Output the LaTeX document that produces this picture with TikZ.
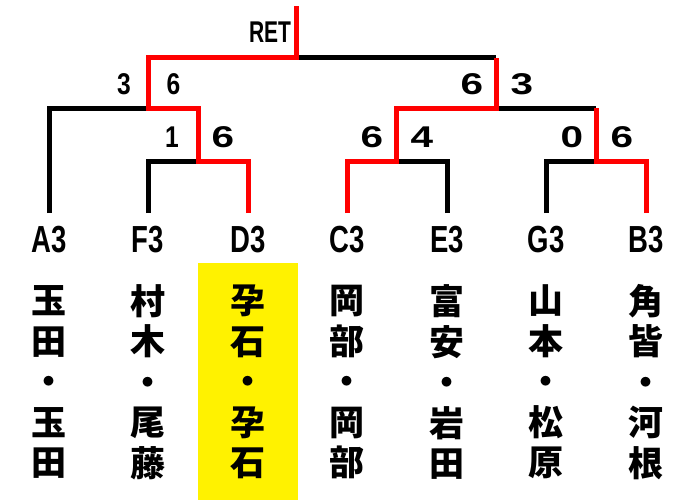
\documentclass[tikz,border=0pt]{standalone}
\usepackage{fontspec}
\setmainfont{Liberation Sans}
\newfontfamily\jp{Noto Sans CJK JP}
\begin{document}
\begin{tikzpicture}[x=1pt,y=-1pt,
  blk/.style={line width=5pt, black},
  redl/.style={line width=5pt, red},
  team/.style={inner sep=0, anchor=base, font=\fontsize{37.7}{40}\selectfont\bfseries},
  score/.style={inner sep=0, anchor=base, font=\fontsize{30}{32}\selectfont\bfseries},
  pname/.style={inner sep=0, align=center, font=\jp\fontsize{35}{40.5}\selectfont\bfseries}]
\useasboundingbox (0,0) rectangle (684,500);
\fill[yellow] (198,263) rectangle (298,500);
% team tops
\coordinate (pA) at (49,213);
\coordinate (pF) at (148,213);
\coordinate (pD) at (248,213);
\coordinate (pC) at (347,213);
\coordinate (pE) at (447,213);
\coordinate (pG) at (546,213);
\coordinate (pB) at (646,213);
% junctions
\coordinate (jFD) at (198,161);
\coordinate (jCE) at (396,161);
\coordinate (jGB) at (596,161);
\coordinate (jL) at (148,108);
\coordinate (jR) at (496,108);
\coordinate (jT) at (296,58);
\coordinate (top) at (296,6);
% black lines
\draw[blk] (pA) |- (jL);
\draw[blk] (pF) |- (jFD);
\draw[blk] (pE) |- (jCE);
\draw[blk] (pG) |- (jGB);
\draw[blk] (jR) -- (jGB |- jR);
\draw[blk] (jT) -- (jR |- jT);
% red lines
\draw[redl] (pD) |- (jFD) |- (jL) |- (jT) -- (top);
\draw[redl] (pC) |- (jCE) |- (jR) -- (jR |- jT);
\draw[redl] (pB) |- (jGB) -- (jGB |- jR);
% scores
\node[score] (ret) at (270,43) {\scalebox{0.7}[1]{RET}};
\node[score] (s1) at (124,95) {\scalebox{0.82}[1]{3}};
\node[score] (s2) at (173.5,95) {\scalebox{0.82}[1]{6}};
\node[score] (s3) at (172,147) {\scalebox{0.82}[1]{1}};
\node[score] (s4) at (223,147) {\scalebox{1.35}[1]{6}};
\node[score] (s5) at (472,95) {\scalebox{1.35}[1]{6}};
\node[score] (s6) at (522,95) {\scalebox{1.35}[1]{3}};
\node[score] (s7) at (372,147) {\scalebox{1.35}[1]{6}};
\node[score] (s8) at (422,147) {\scalebox{1.35}[1]{4}};
\node[score] (s9) at (572,147) {\scalebox{1.35}[1]{0}};
\node[score] (s10) at (622,147) {\scalebox{1.35}[1]{6}};
% teams
\node[team] (tA) at (49,252) {\scalebox{0.73}[1]{A3}};
\node[team] (tF) at (148,252) {\scalebox{0.73}[1]{F3}};
\node[team] (tD) at (248,252) {\scalebox{0.73}[1]{D3}};
\node[team] (tC) at (347,252) {\scalebox{0.73}[1]{C3}};
\node[team] (tE) at (447,252) {\scalebox{0.73}[1]{E3}};
\node[team] (tG) at (546,252) {\scalebox{0.73}[1]{G3}};
\node[team] (tB) at (646,252) {\scalebox{0.73}[1]{B3}};
% names
\node[pname] (nA) at (49,382) {玉\\田\\・\\玉\\田};
\node[pname] (nF) at (148,382) {村\\木\\・\\尾\\藤};
\node[pname] (nD) at (248,382) {孕\\石\\・\\孕\\石};
\node[pname] (nC) at (347,382) {岡\\部\\・\\岡\\部};
\node[pname] (nE) at (447,382) {富\\安\\・\\岩\\田};
\node[pname] (nG) at (546,382) {山\\本\\・\\松\\原};
\node[pname] (nB) at (646,382) {角\\皆\\・\\河\\根};
\end{tikzpicture}
\end{document}
